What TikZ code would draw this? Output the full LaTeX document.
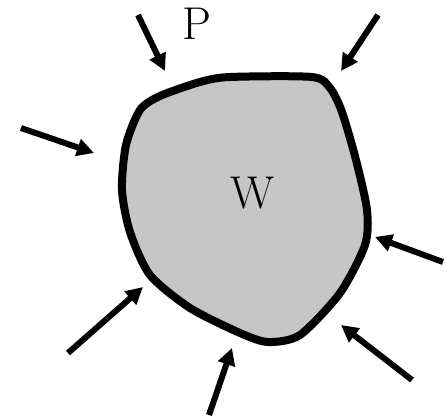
\documentclass[tikz,border=0pt]{standalone}
\usetikzlibrary{arrows.meta}
\definecolor{blobgray}{RGB}{198,198,198}
\tikzset{
  force/.style={line width=6pt,-{Triangle[length=17pt,width=17pt]}},
  blob/.style={line width=8pt,fill=blobgray,draw=black,line join=round},
  lbl/.style={font=\fontsize{46}{46}\selectfont,inner sep=0pt}
}
\begin{document}
\begin{tikzpicture}[x=1pt,y=-1pt]
\useasboundingbox (0,0) rectangle (444,419);
\draw[blob] plot[smooth cycle,tension=0.45] coordinates {
 (230,77) (312,77) (330,88) (342,112) (356,160) (367,210) (365,245)
 (340,293) (300,335) (268,342) (240,333) (190,308) (150,275) (130,232)
 (122,190) (126,145) (140,110) (160,96) (200,82)};
\coordinate (a1s) at (138,15);  \coordinate (a1e) at (165,71);
\coordinate (a2s) at (378,15);  \coordinate (a2e) at (341,71);
\coordinate (a3s) at (21,128);  \coordinate (a3e) at (94,153);
\coordinate (a4s) at (443,262); \coordinate (a4e) at (375,237);
\coordinate (a5s) at (68,353);  \coordinate (a5e) at (143,287);
\coordinate (a6s) at (209,415); \coordinate (a6e) at (232,348);
\coordinate (a7s) at (412,380); \coordinate (a7e) at (341,325);
\foreach \i in {1,...,7} \draw[force] (a\i s) -- (a\i e);
\node[lbl] (p) at (197,24) {P};
\node[lbl] (w) at (252,193) {W};
\end{tikzpicture}
\end{document}
